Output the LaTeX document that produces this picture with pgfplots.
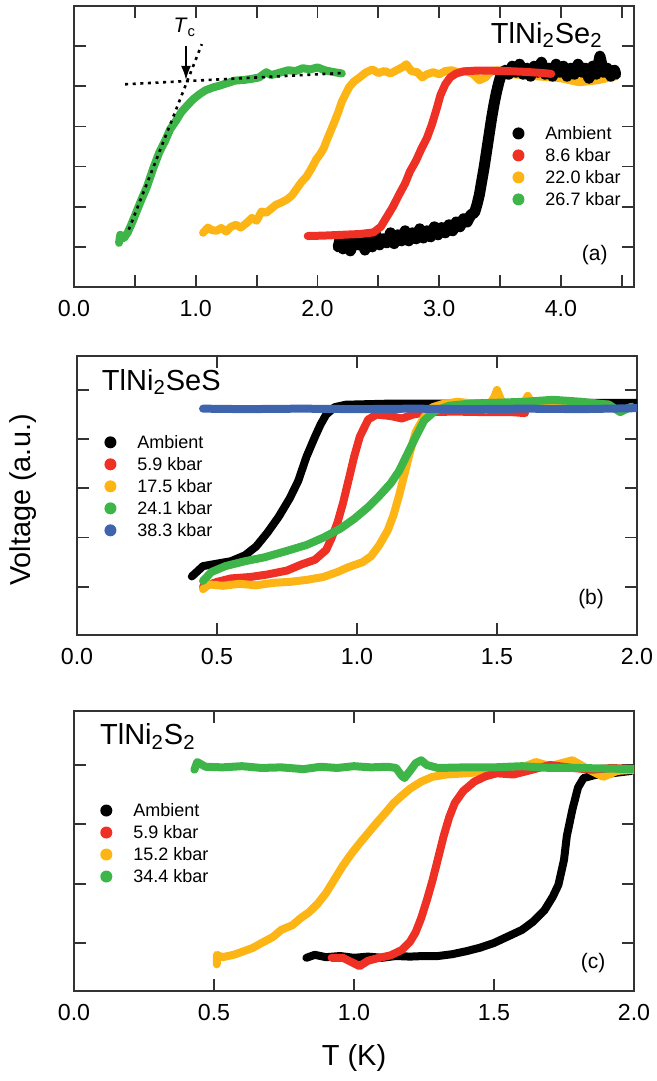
\documentclass[border=0pt]{standalone}
\usepackage{fontspec}
\setmainfont{Liberation Sans}
\usepackage{pgfplots}
\pgfplotsset{compat=1.18}
\usetikzlibrary{arrows.meta}
\definecolor{cred}{HTML}{EE3124}
\definecolor{cyel}{HTML}{FDB515}
\definecolor{cgrn}{HTML}{3DB549}
\definecolor{cblu}{HTML}{3E64AE}
\pgfplotsset{
  panel/.style={
    scale only axis, width=280pt,
    axis line style={black!80, line width=0.9pt},
    tick style={black!80, line width=0.9pt},
    tick align=inside, major tick length=6pt, minor tick length=6pt,
    yticklabel={\mbox{}},
    xticklabel style={font=\fontsize{11.6}{12}\selectfont, yshift=-3pt},
    /pgf/number format/.cd, fixed, fixed zerofill, precision=1, assume math mode=true,
    /pgfplots/.cd,
    legend image code/.code={\fill[draw=none] (0pt,0pt) circle (3pt); \path[draw=none] (-3pt,0pt) -- (13.5pt,0pt);},
    legend style={draw=none, fill=none, inner sep=0pt, anchor=north west,
      xshift=-3pt, yshift=5.5pt, font=\fontsize{9}{11}\selectfont, row sep=0pt,
      nodes={inner sep=0pt, text height=8.7pt, text depth=2.3pt}},
    legend cell align=left,
  },
  ser/.style={color=#1, line width=4pt, line cap=round, line join=round, mark=none},
  dotln/.style={black, line width=1.3pt, dash pattern=on 1.5pt off 2.3pt},
}
\begin{document}
\begin{tikzpicture}
\path[use as bounding box] (0,0) rectangle (328.5pt,-540.5pt);

% (a) TlNi2Se2
\begin{axis}[panel, at={(37pt,-3pt)}, anchor=north west, height=140.5pt,
  xmin=0, xmax=4.6, ymin=0, ymax=7,
  xtick={0,1,2,3,4}, minor xtick={0.5,1.5,2.5,3.5,4.5}, ytick={1,2,3,4,5,6},
  legend style={at={(0.793,0.548)}}]
\addplot[ser=cgrn, forget plot] coordinates {(0.37,1.10)(0.38,1.30)(0.41,1.22)(0.44,1.35)(0.47,1.55)(0.51,1.85)(0.55,2.15)(0.60,2.50)(0.65,2.95)(0.70,3.35)(0.75,3.65)(0.79,3.93)(0.84,4.15)(0.88,4.35)(0.93,4.52)(0.98,4.68)(1.03,4.80)(1.08,4.90)(1.14,4.97)(1.20,5.02)(1.26,5.08)(1.32,5.14)(1.40,5.16)(1.45,5.18)(1.52,5.22)(1.58,5.35)(1.62,5.28)(1.68,5.33)(1.76,5.40)(1.82,5.38)(1.88,5.45)(1.94,5.42)(2.00,5.47)(2.06,5.40)(2.12,5.36)(2.20,5.32)};
\addplot[ser=cyel, forget plot] coordinates {(1.06,1.35)(1.10,1.48)(1.13,1.42)(1.17,1.40)(1.21,1.47)(1.25,1.38)(1.29,1.50)(1.33,1.55)(1.37,1.48)(1.42,1.60)(1.46,1.72)(1.50,1.65)(1.54,1.88)(1.58,1.85)(1.62,1.95)(1.66,2.05)(1.70,2.10)(1.75,2.18)(1.79,2.28)(1.83,2.45)(1.87,2.62)(1.91,2.75)(1.95,2.95)(1.99,3.18)(2.02,3.30)(2.05,3.45)(2.08,3.68)(2.11,3.90)(2.14,4.12)(2.17,4.35)(2.20,4.62)(2.23,4.80)(2.26,4.98)(2.30,5.12)(2.35,5.23)(2.40,5.35)(2.45,5.42)(2.50,5.33)(2.55,5.38)(2.60,5.32)(2.65,5.40)(2.70,5.48)(2.73,5.55)(2.77,5.38)(2.82,5.35)(2.86,5.22)(2.90,5.30)(2.95,5.35)(3.00,5.30)(3.05,5.38)(3.10,5.40)(3.16,5.35)(3.22,5.38)(3.28,5.30)(3.33,5.15)(3.38,5.22)(3.43,5.38)(3.48,5.40)(3.60,5.30)(3.80,5.25)(4.00,5.20)(4.15,5.10)(4.30,5.15)(4.45,5.25)};
\addplot[ser=black, line width=5.5pt, forget plot] coordinates {(2.17,1.00)(2.19,1.25)(2.21,0.95)(2.24,1.20)(2.27,0.90)(2.30,1.15)(2.33,1.05)(2.36,1.25)(2.39,0.92)(2.42,1.20)(2.45,1.00)(2.48,1.30)(2.51,1.05)(2.54,1.20)(2.57,1.10)(2.60,1.35)(2.63,1.08)(2.66,1.30)(2.69,1.15)(2.72,1.40)(2.75,1.15)(2.78,1.35)(2.81,1.20)(2.84,1.45)(2.87,1.22)(2.90,1.40)(2.93,1.25)(2.96,1.50)(2.99,1.30)(3.02,1.48)(3.05,1.35)(3.08,1.55)(3.11,1.40)(3.14,1.62)(3.17,1.50)(3.20,1.70)(3.23,1.62)(3.26,1.80)(3.29,1.85)(3.31,2.05)(3.33,2.30)(3.35,2.65)(3.37,3.00)(3.39,3.40)(3.41,3.80)(3.43,4.20)(3.45,4.55)(3.47,4.85)(3.49,5.10)(3.51,5.30)(3.54,5.40)(3.57,5.30)(3.60,5.50)(3.63,5.35)(3.66,5.55)(3.69,5.30)(3.72,5.45)(3.75,5.25)(3.78,5.50)(3.81,5.35)(3.84,5.60)(3.87,5.30)(3.90,5.45)(3.93,5.25)(3.96,5.55)(3.99,5.35)(4.02,5.50)(4.05,5.25)(4.08,5.45)(4.11,5.30)(4.14,5.55)(4.17,5.35)(4.20,5.45)(4.23,5.20)(4.26,5.50)(4.29,5.30)(4.32,5.75)(4.35,5.35)(4.38,5.45)(4.41,5.25)(4.44,5.40)(4.45,5.30)};
\addplot[ser=cred, forget plot] coordinates {(1.92,1.27)(2.05,1.28)(2.20,1.30)(2.35,1.32)(2.46,1.36)(2.52,1.50)(2.57,1.75)(2.62,2.00)(2.67,2.30)(2.72,2.58)(2.76,2.88)(2.81,3.15)(2.85,3.42)(2.90,3.72)(2.94,4.05)(2.98,4.45)(3.01,4.78)(3.05,5.05)(3.09,5.22)(3.14,5.32)(3.20,5.37)(3.30,5.39)(3.40,5.39)(3.55,5.38)(3.70,5.36)(3.85,5.33)(3.92,5.31)};
\addplot[dotln, forget plot] coordinates {(0.42,5.05)(2.20,5.33)};
\addplot[dotln, forget plot] coordinates {(0.45,1.43)(1.05,6.05)};
\draw[-{Latex[length=7pt,width=5pt]}, line width=0.9pt] (axis cs:0.92,6.0) -- (axis cs:0.92,5.16);
\node[font=\fontsize{10.5}{12}\selectfont] at (axis cs:0.91,6.47) {\textit{T}\textsubscript{c}};
\node[anchor=base west, font=\fontsize{14.5}{16}\selectfont] at (rel axis cs:0.732,0.868) {TlNi\textsubscript{2}Se\textsubscript{2}};
\node[font=\fontsize{10.5}{12}\selectfont] at (rel axis cs:0.93,0.114) {(a)};
\addlegendimage{ser=black}\addlegendentry{Ambient}
\addlegendimage{ser=cred}\addlegendentry{8.6 kbar}
\addlegendimage{ser=cyel}\addlegendentry{22.0 kbar}
\addlegendimage{ser=cgrn}\addlegendentry{26.7 kbar}
\end{axis}

% (b) TlNi2SeS
\begin{axis}[panel, at={(38.5pt,-178pt)}, anchor=north west, height=139.5pt,
  xmin=0, xmax=2, ymin=0.02, ymax=5.69,
  xtick={0,0.5,1,1.5,2}, ytick={1,2,3,4,5},
  legend style={at={(0.059,0.692)}}]
\addplot[ser=black] coordinates {(0.41,1.21)(0.45,1.42)(0.50,1.47)(0.55,1.52)(0.60,1.64)(0.64,1.82)(0.68,2.10)(0.72,2.42)(0.76,2.80)(0.79,3.15)(0.82,3.65)(0.85,4.05)(0.87,4.30)(0.89,4.50)(0.92,4.65)(0.96,4.70)(1.10,4.72)(1.30,4.72)(1.60,4.73)(1.80,4.74)(2.00,4.74)};
\addlegendentry{Ambient}
\addplot[ser=cred] coordinates {(0.45,1.00)(0.50,1.10)(0.55,1.17)(0.62,1.20)(0.68,1.25)(0.75,1.33)(0.80,1.45)(0.85,1.55)(0.89,1.75)(0.91,2.00)(0.93,2.30)(0.95,2.70)(0.97,3.17)(0.99,3.65)(1.01,4.05)(1.04,4.40)(1.07,4.50)(1.12,4.47)(1.16,4.42)(1.20,4.50)(1.25,4.55)(1.35,4.56)(1.45,4.55)(1.55,4.55)(1.60,4.53)};
\addlegendentry{5.9 kbar}
\addplot[ser=cyel] coordinates {(0.45,0.95)(0.47,1.05)(0.52,1.02)(0.58,1.06)(0.64,1.03)(0.70,1.08)(0.76,1.10)(0.82,1.14)(0.88,1.20)(0.93,1.30)(0.97,1.40)(1.02,1.50)(1.05,1.62)(1.08,1.85)(1.11,2.15)(1.13,2.45)(1.15,2.85)(1.17,3.30)(1.19,3.75)(1.21,4.15)(1.24,4.45)(1.27,4.65)(1.31,4.72)(1.36,4.76)(1.42,4.72)(1.46,4.60)(1.49,4.85)(1.50,5.00)(1.52,4.72)(1.56,4.65)(1.60,4.78)(1.61,4.88)(1.63,4.65)(1.70,4.70)(1.80,4.72)(1.90,4.70)};
\addlegendentry{17.5 kbar}
\addplot[ser=cgrn] coordinates {(0.45,1.12)(0.48,1.30)(0.53,1.42)(0.60,1.52)(0.67,1.60)(0.75,1.73)(0.82,1.85)(0.88,2.00)(0.94,2.18)(0.99,2.38)(1.04,2.62)(1.08,2.85)(1.12,3.10)(1.15,3.35)(1.18,3.70)(1.21,4.05)(1.24,4.38)(1.28,4.58)(1.33,4.68)(1.40,4.72)(1.50,4.74)(1.60,4.76)(1.70,4.80)(1.80,4.76)(1.90,4.70)(1.94,4.55)(1.98,4.66)};
\addlegendentry{24.1 kbar}
\addplot[ser=cblu] coordinates {(0.45,4.62)(0.60,4.61)(0.80,4.62)(1.00,4.61)(1.20,4.62)(1.40,4.61)(1.60,4.62)(1.80,4.61)(2.00,4.63)};
\addlegendentry{38.3 kbar}
\node[anchor=base west, font=\fontsize{14.5}{16}\selectfont] at (rel axis cs:0.032,0.878) {TlNi\textsubscript{2}SeS};
\node[font=\fontsize{10.5}{12}\selectfont] at (rel axis cs:0.918,0.129) {(b)};
\end{axis}

% (c) TlNi2S2
\begin{axis}[panel, at={(37pt,-355.5pt)}, anchor=north west, height=140pt,
  xmin=0, xmax=2, ymin=-0.81, ymax=3.91,
  xtick={0,0.5,1,1.5,2}, ytick={0,1,2,3},
  legend style={at={(0.057,0.646)}}]
\addplot[ser=black, forget plot] coordinates {(0.83,-0.25)(0.86,-0.20)(0.90,-0.24)(0.95,-0.22)(1.00,-0.25)(1.05,-0.23)(1.10,-0.25)(1.15,-0.22)(1.20,-0.23)(1.25,-0.22)(1.30,-0.22)(1.35,-0.19)(1.40,-0.14)(1.45,-0.08)(1.50,0.00)(1.55,0.11)(1.60,0.22)(1.64,0.36)(1.68,0.55)(1.71,0.78)(1.73,0.98)(1.75,1.40)(1.76,1.80)(1.78,2.25)(1.80,2.62)(1.82,2.78)(1.86,2.83)(1.92,2.86)(1.99,2.90)};
\addplot[ser=cyel, forget plot] coordinates {(0.51,-0.36)(0.51,-0.20)(0.53,-0.24)(0.57,-0.20)(0.60,-0.15)(0.64,-0.08)(0.67,0.00)(0.71,0.10)(0.74,0.22)(0.78,0.30)(0.81,0.42)(0.84,0.52)(0.87,0.66)(0.90,0.84)(0.93,1.07)(0.96,1.30)(0.99,1.50)(1.02,1.68)(1.05,1.85)(1.08,2.02)(1.11,2.18)(1.14,2.35)(1.17,2.48)(1.20,2.60)(1.24,2.72)(1.28,2.80)(1.33,2.84)(1.40,2.86)(1.50,2.90)(1.58,2.92)(1.65,3.05)(1.70,2.98)(1.78,3.08)(1.84,2.92)(1.89,2.80)(1.94,2.90)(2.00,2.92)};
\addplot[ser=cred, forget plot] coordinates {(0.92,-0.25)(0.96,-0.25)(0.99,-0.32)(1.02,-0.39)(1.05,-0.30)(1.09,-0.25)(1.13,-0.21)(1.17,-0.12)(1.20,0.02)(1.22,0.18)(1.24,0.42)(1.26,0.72)(1.28,1.05)(1.30,1.42)(1.32,1.80)(1.34,2.12)(1.36,2.36)(1.39,2.56)(1.43,2.72)(1.47,2.81)(1.51,2.86)(1.57,2.84)(1.62,2.90)(1.70,3.00)(1.78,2.95)(1.85,2.92)(1.92,2.95)(2.00,2.93)};
\addplot[ser=cgrn, forget plot] coordinates {(0.43,2.92)(0.44,3.05)(0.47,2.97)(0.53,2.96)(0.60,2.98)(0.67,2.95)(0.74,2.96)(0.82,2.93)(0.88,2.97)(0.94,2.95)(1.00,2.98)(1.06,2.96)(1.12,2.97)(1.15,2.95)(1.17,2.82)(1.18,2.78)(1.20,2.90)(1.22,3.03)(1.24,3.08)(1.26,3.00)(1.30,2.95)(1.40,2.96)(1.50,2.96)(1.60,2.98)(1.70,2.95)(1.80,2.95)(1.90,2.94)(2.00,2.93)};
\addlegendimage{ser=black}\addlegendentry{Ambient}
\addlegendimage{ser=cred}\addlegendentry{5.9 kbar}
\addlegendimage{ser=cyel}\addlegendentry{15.2 kbar}
\addlegendimage{ser=cgrn}\addlegendentry{34.4 kbar}
\node[anchor=base west, font=\fontsize{14.5}{16}\selectfont] at (rel axis cs:0.034,0.879) {TlNi\textsubscript{2}S\textsubscript{2}};
\node[font=\fontsize{10.5}{12}\selectfont] at (rel axis cs:0.927,0.10) {(c)};
\end{axis}

\node[rotate=90, font=\fontsize{14.4}{16}\selectfont] at (11.5pt,-250pt) {Voltage (a.u.)};
\node[font=\fontsize{14.5}{16}\selectfont] at (177pt,-529pt) {T (K)};
\end{tikzpicture}
\end{document}
